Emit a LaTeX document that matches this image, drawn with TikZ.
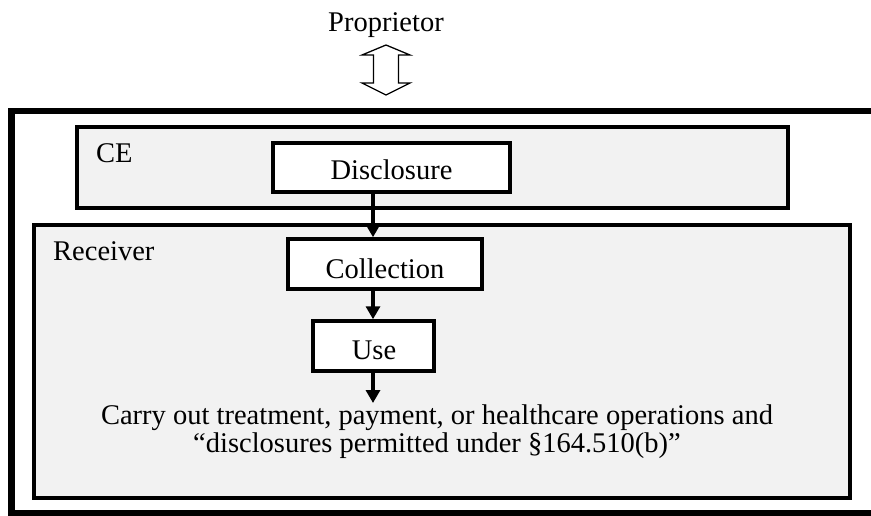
\documentclass[tikz,border=0pt]{standalone}
\usepackage{fontspec}
\setmainfont{Liberation Serif}
\usetikzlibrary{arrows.meta}
\definecolor{panel}{RGB}{242,242,242}
\tikzset{
  x=1pt, y=-1pt,
  every node/.style={font=\fontsize{28.5}{28}\selectfont, inner sep=0pt},
  region/.style={draw=black, line width=3.5pt, fill=panel},
  stepbox/.style={draw=black, line width=3.5pt, fill=white},
  flow/.style={line width=3.5pt, -{Triangle[width=14pt,length=13pt]}},
}
\begin{document}
\begin{tikzpicture}
\useasboundingbox (0,0) rectangle (871,516);

% outer frame (runs off the right side)
\draw[line width=6.5pt] (900,111) -- (11.5,111) -- (11.5,513) -- (900,513);

% regions
\node[region, minimum width=711pt, minimum height=81pt] (ce) at (432.5,167.5) {};
\node[region, minimum width=816pt, minimum height=273pt] (recv) at (442,361.5) {};
\node[anchor=base west] (celabel) at (96,163) {CE};
\node[anchor=base west] (recvlabel) at (53,260) {Receiver};

% process steps
\node[stepbox, minimum width=237pt, minimum height=49pt] (disc) at (391.5,167.5) {};
\node[anchor=base] (disctext) at (391.5,180) {Disclosure};
\node[stepbox, minimum width=194pt, minimum height=50pt] (coll) at (385,264) {};
\node[anchor=base] (colltext) at (385,278) {Collection};
\node[stepbox, minimum width=121pt, minimum height=50pt] (use) at (373.5,346) {};
\node[anchor=base] (usetext) at (374,359) {Use};

\node[align=center, anchor=north] (purpose) at (437,405)
  {Carry out treatment, payment, or healthcare operations and\\“disclosures permitted under §164.510(b)”};

% flow arrows
\coordinate (dsrc) at (373,192);
\draw[flow] (dsrc) -- (dsrc |- coll.north);
\coordinate (csrc) at (373,289);
\draw[flow] (csrc) -- (csrc |- use.north);
\draw[flow, shorten >=2pt] (use.south -| csrc) -- (csrc |- purpose.north);

% proprietor and its two-way arrow
\node[anchor=base] (prop) at (386,32) {Proprietor};
\draw[line width=1.3pt, fill=white, line join=miter]
  (386,45) -- (410,55) -- (398.5,55) -- (398.5,83) -- (410,83) -- (386,95)
  -- (362,83) -- (373.5,83) -- (373.5,55) -- (362,55) -- cycle;
\end{tikzpicture}
\end{document}
